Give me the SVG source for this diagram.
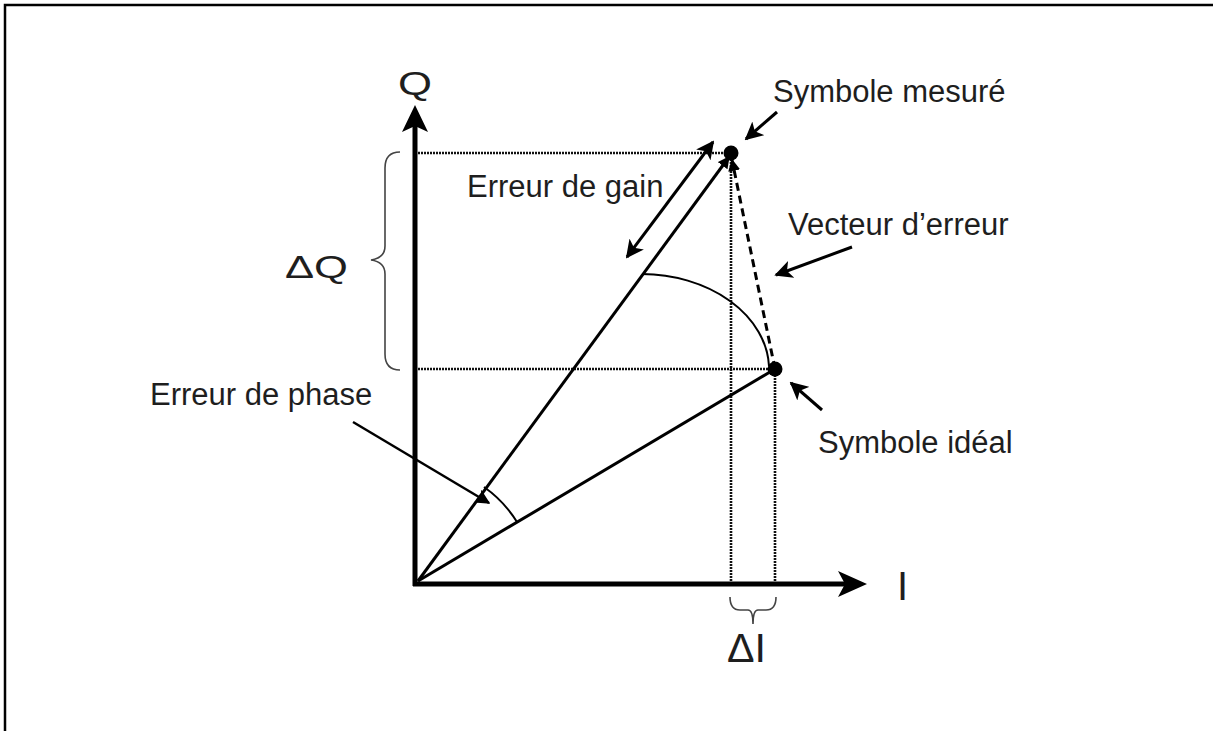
<svg xmlns="http://www.w3.org/2000/svg" width="1213" height="731" viewBox="0 0 1213 731">
<defs>
<style>
.lbl{font-family:"Liberation Sans",Arial,sans-serif;font-size:31px;fill:#1e1e1e}
.ax{stroke:#000;stroke-width:5;fill:none}
.vec{stroke:#000;stroke-width:3;fill:none}
.dot{stroke:#111;stroke-width:2.6;stroke-dasharray:2 1;fill:none}
.brace{stroke:#444;stroke-width:1.6;fill:none}
.ptr{stroke:#000;stroke-width:3;fill:none}
</style>
<marker id="ah" viewBox="0 0 10 10" refX="9" refY="5" markerWidth="6" markerHeight="6" markerUnits="strokeWidth" orient="auto-start-reverse">
<path d="M0,0 L10,5 L0,10 L2.5,5 Z" fill="#000"/>
</marker>
<marker id="ahs" viewBox="0 0 10 10" refX="9" refY="5" markerWidth="4" markerHeight="4" markerUnits="strokeWidth" orient="auto">
<path d="M0,0 L10,5 L0,10 Z" fill="#000"/>
</marker>
</defs>
<rect width="1213" height="731" fill="#fff"/>
<rect x="5" y="5" width="1230" height="750" fill="none" stroke="#000" stroke-width="2.5"/>

<g id="guides">
<line class="dot" x1="418" y1="153" x2="731" y2="153"/>
<line class="dot" x1="418" y1="369" x2="775" y2="369"/>
<line class="dot" x1="731" y1="153" x2="731" y2="582"/>
<line class="dot" x1="775" y1="369" x2="775" y2="582"/>
</g>

<g id="axes">
<line class="ax" x1="415" y1="586" x2="415" y2="125"/>
<polygon points="415,105 402,132 415,126 428,132" fill="#000"/>
<line class="ax" x1="413" y1="584" x2="848" y2="584"/>
<polygon points="867,584 838,571 845,584 838,597" fill="#000"/>
</g>

<g id="connectors">
<line class="vec" x1="418" y1="581" x2="729" y2="157" marker-end="url(#ahs)"/>
<line class="vec" x1="418" y1="581" x2="775" y2="369"/>
<line x1="775" y1="369" x2="732" y2="160" stroke="#000" stroke-width="3" stroke-dasharray="8 5" marker-end="url(#ahs)"/>
<line class="ptr" x1="627" y1="257" x2="713" y2="142" marker-start="url(#ah)" marker-end="url(#ah)"/>
<path d="M642,274 A128,96 0 0 1 769,366" stroke="#000" stroke-width="2" fill="none"/>
<path d="M484,487 A120,120 0 0 1 517,522" stroke="#000" stroke-width="2" fill="none"/>
<line class="ptr" x1="777" y1="112" x2="746" y2="139" marker-end="url(#ah)"/>
<line class="ptr" x1="852" y1="247" x2="776" y2="275" marker-end="url(#ah)"/>
<line class="ptr" x1="822" y1="410" x2="791" y2="383" marker-end="url(#ah)"/>
<line x1="353" y1="422" x2="489" y2="503" stroke="#000" stroke-width="2.5" marker-end="url(#ah)"/>
</g>

<g id="measured-symbol">
<circle cx="731" cy="153" r="7.5" fill="#000"/>
<text class="lbl" x="773" y="102">Symbole mesuré</text>
</g>
<g id="ideal-symbol">
<circle cx="775" cy="369" r="7.5" fill="#000"/>
<text class="lbl" x="818" y="453">Symbole idéal</text>
</g>
<g id="error-vector">
<text class="lbl" x="788" y="235">Vecteur d’erreur</text>
</g>
<g id="gain-error">
<text class="lbl" x="467" y="197">Erreur de gain</text>
</g>
<g id="phase-error">
<text class="lbl" x="150" y="405">Erreur de phase</text>
</g>

<g id="axis-labels">
<text class="lbl" x="398" y="95" style="font-size:33px" textLength="34" lengthAdjust="spacingAndGlyphs">Q</text>
<text class="lbl" x="897" y="600" style="font-size:40px">I</text>
</g>

<g id="delta-q">
<path class="brace" d="M400,152 Q385,152 385,168 L385,246 Q385,258 371,260 Q385,262 385,274 L385,354 Q385,370 400,370"/>
<text class="lbl" x="285" y="278" style="font-size:31px" textLength="63" lengthAdjust="spacingAndGlyphs">ΔQ</text>
</g>
<g id="delta-i">
<path class="brace" d="M730,597 Q730,610 740,610 L748,610 Q753,610 753,624 Q753,610 758,610 L766,610 Q776,610 776,597"/>
<text class="lbl" x="727" y="662" style="font-size:41px" textLength="39" lengthAdjust="spacingAndGlyphs">ΔI</text>
</g>
</svg>
